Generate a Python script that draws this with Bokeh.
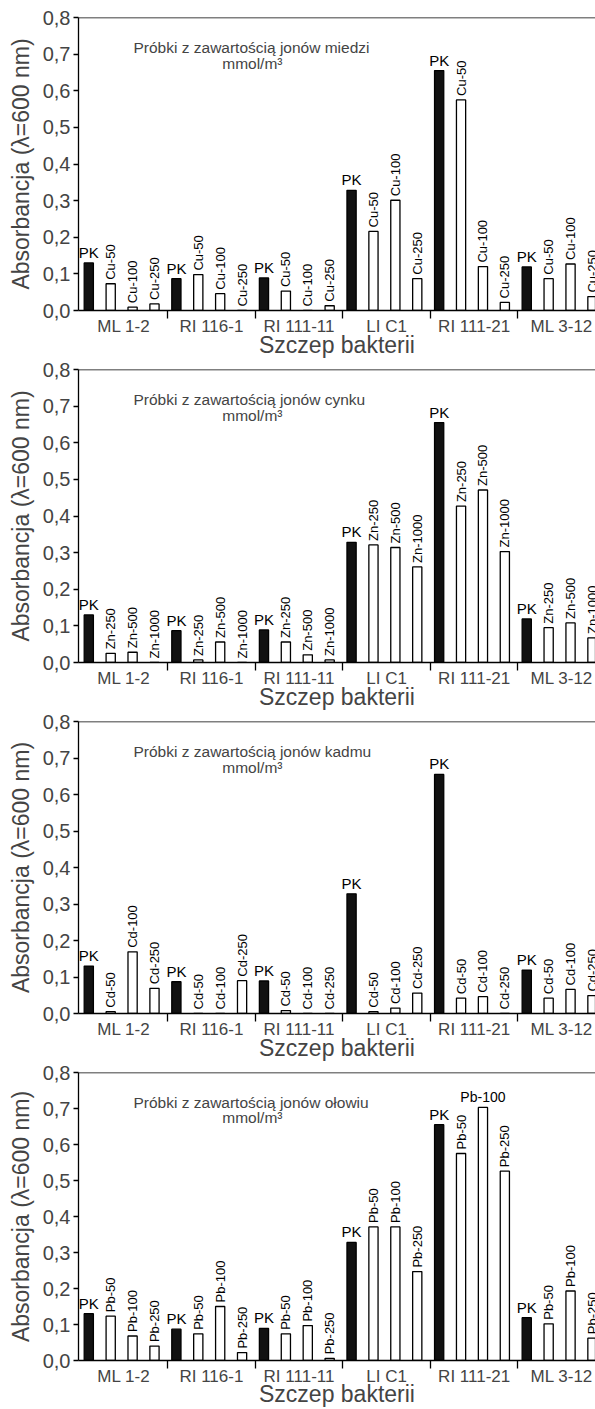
import math
from bokeh.plotting import figure
from bokeh.models import FixedTicker, Span, Label, ColumnDataSource, Range1d, CustomJSTickFormatter
from bokeh.layouts import column
from bokeh.embed import file_html
from bokeh.resources import INLINE
from bokeh.core.properties import value

# ---------------- data ----------------
strains = ["ML 1-2", "RI 116-1", "RI 111-11", "LI C1", "RI 111-21", "ML 3-12"]
pk = [0.130, 0.087, 0.089, 0.328, 0.655, 0.119]

cu_names = ["Cu-50", "Cu-100", "Cu-250"]
cu50 = [0.073, 0.098, 0.053, 0.216, 0.575, 0.087]
cu100 = [0.009, 0.046, 0.0, 0.301, 0.120, 0.127]
cu250 = [0.018, 0.0, 0.013, 0.087, 0.022, 0.038]

zn_names = ["Zn-250", "Zn-500", "Zn-1000"]
zn250 = [0.025, 0.007, 0.056, 0.321, 0.427, 0.095]
zn500 = [0.028, 0.056, 0.021, 0.314, 0.471, 0.108]
zn1000 = [0.0, 0.0, 0.007, 0.261, 0.303, 0.067]

cd_names = ["Cd-50", "Cd-100", "Cd-250"]
cd50 = [0.005, 0.0, 0.008, 0.005, 0.042, 0.042]
cd100 = [0.169, 0.0, 0.0, 0.015, 0.046, 0.066]
cd250 = [0.069, 0.090, 0.0, 0.056, 0.0, 0.049]

pb_names = ["Pb-50", "Pb-100", "Pb-250"]
pb50 = [0.123, 0.074, 0.074, 0.371, 0.575, 0.102]
pb100 = [0.068, 0.150, 0.097, 0.371, 0.703, 0.193]
pb250 = [0.040, 0.022, 0.006, 0.247, 0.526, 0.062]

ions = ["miedzi", "cynku", "kadmu", "ołowiu"]
yticks = [0.0, 0.1, 0.2, 0.3, 0.4, 0.5, 0.6, 0.7, 0.8]
y_title = "Absorbancja (λ=600 nm)"
x_title = "Szczep bakterii"
note_1 = "Próbki z zawartością jonów "
note_2 = "mmol/m³"

FONT = "Liberation Sans"

# (names, series, ion, fig height, top border, x-title standoff)
panels = [
    (cu_names, [cu50, cu100, cu250], ions[0], 360, 17, -7),
    (zn_names, [zn250, zn500, zn1000], ions[1], 352, 9, -7),
    (cd_names, [cd50, cd100, cd250], ions[2], 351, 9, -7),
    (pb_names, [pb50, pb100, pb250], ions[3], 346, 9, -8),
]


def make_panel(names, series, ion, height, top, xstand):
    n = 1 + len(names)
    p = figure(width=595, height=height, output_backend="svg", toolbar_location=None,
               x_range=Range1d(-0.07, 23.54), y_range=Range1d(0, 0.8),
               min_border_left=78, min_border_right=0, min_border_top=top,
               min_border_bottom=20)
    p.outline_line_color = None
    p.background_fill_color = "white"
    p.border_fill_color = "white"
    p.xgrid.visible = False
    p.ygrid.visible = False

    xs, tops, fills, labs = [], [], [], []
    for i in range(len(strains)):
        vals = [pk[i]] + [s[i] for s in series]
        lbls = ["PK"] + names
        for j, (v, l) in enumerate(zip(vals, lbls)):
            xs.append(n * i + j + 0.4)
            tops.append(v)
            fills.append("#111111" if l == "PK" else "white")
            labs.append(l)
    src = ColumnDataSource(dict(x=xs, top=tops, fill=fills, lab=labs))
    p.vbar(x="x", top="top", bottom=0, width=0.42, fill_color="fill",
           line_color="black", line_width=1.3, source=src)

    hx, hy, ht, rx, ry, rt = [], [], [], [], [], []
    for x, t, l in zip(xs, tops, labs):
        if l == "PK" or t > 0.68:
            hx.append(x); hy.append(t); ht.append(l)
        else:
            rx.append(x); ry.append(t); rt.append(l)
    p.text(x=rx, y=ry, text=rt, angle=math.pi / 2, text_align="left",
           text_baseline="middle", y_offset=-4, text_font=value(FONT),
           text_font_size="13px", text_color="black")
    p.text(x=hx, y=hy, text=ht, text_align="center", text_baseline="bottom",
           y_offset=-2, text_font=value(FONT),
           text_font_size=["15px" if l == "PK" else "14px" for l in ht],
           text_color="black")

    p.add_layout(Span(location=0.8, dimension="width", line_color="black", line_width=1.3))

    p.add_layout(Label(x=2.44, y=0.718, text=note_1 + ion, text_font=FONT,
                       text_font_size="15.5px", text_align="left", text_baseline="middle"))
    p.add_layout(Label(x=7.87, y=0.674, text=note_2, text_font=FONT,
                       text_font_size="15.5px", text_align="center", text_baseline="middle"))

    # y axis
    ya = p.yaxis[0]
    ya.ticker = FixedTicker(ticks=yticks)
    ya.formatter = CustomJSTickFormatter(code="return tick.toFixed(1).replace('.', ',')")
    ya.major_tick_out = 5
    ya.major_tick_in = 0
    ya.minor_tick_line_color = None
    ya.axis_line_width = 1.3
    ya.major_tick_line_width = 1.3
    ya.major_label_standoff = 3
    ya.major_label_text_font = FONT
    ya.major_label_text_font_size = "20px"
    ya.axis_label = y_title
    ya.axis_label_text_font = FONT
    ya.axis_label_text_font_size = "23px"
    ya.axis_label_text_font_style = "normal"
    ya.axis_label_standoff = 6

    # x axis
    xa = p.xaxis[0]
    centers = [n * i + n / 2 for i in range(len(strains))]
    seps = [n * i for i in range(1, len(strains))]
    xa.ticker = FixedTicker(ticks=centers, minor_ticks=seps)
    xa.major_label_overrides = {c: s for c, s in zip(centers, strains)}
    xa.major_tick_line_color = None
    xa.major_tick_out = 0
    xa.major_tick_in = 0
    xa.minor_tick_out = 8
    xa.minor_tick_in = 0
    xa.minor_tick_line_width = 1.3
    xa.axis_line_width = 1.3
    xa.major_label_standoff = -2
    xa.major_label_text_font = FONT
    xa.major_label_text_font_size = "17px"
    xa.axis_label = x_title
    xa.axis_label_text_font = FONT
    xa.axis_label_text_font_size = "23px"
    xa.axis_label_text_font_style = "normal"
    xa.axis_label_standoff = xstand
    return p


figs = [make_panel(*pp) for pp in panels]
layout = column(*figs, spacing=0)
open("out.html", "w").write(file_html(layout, INLINE))
